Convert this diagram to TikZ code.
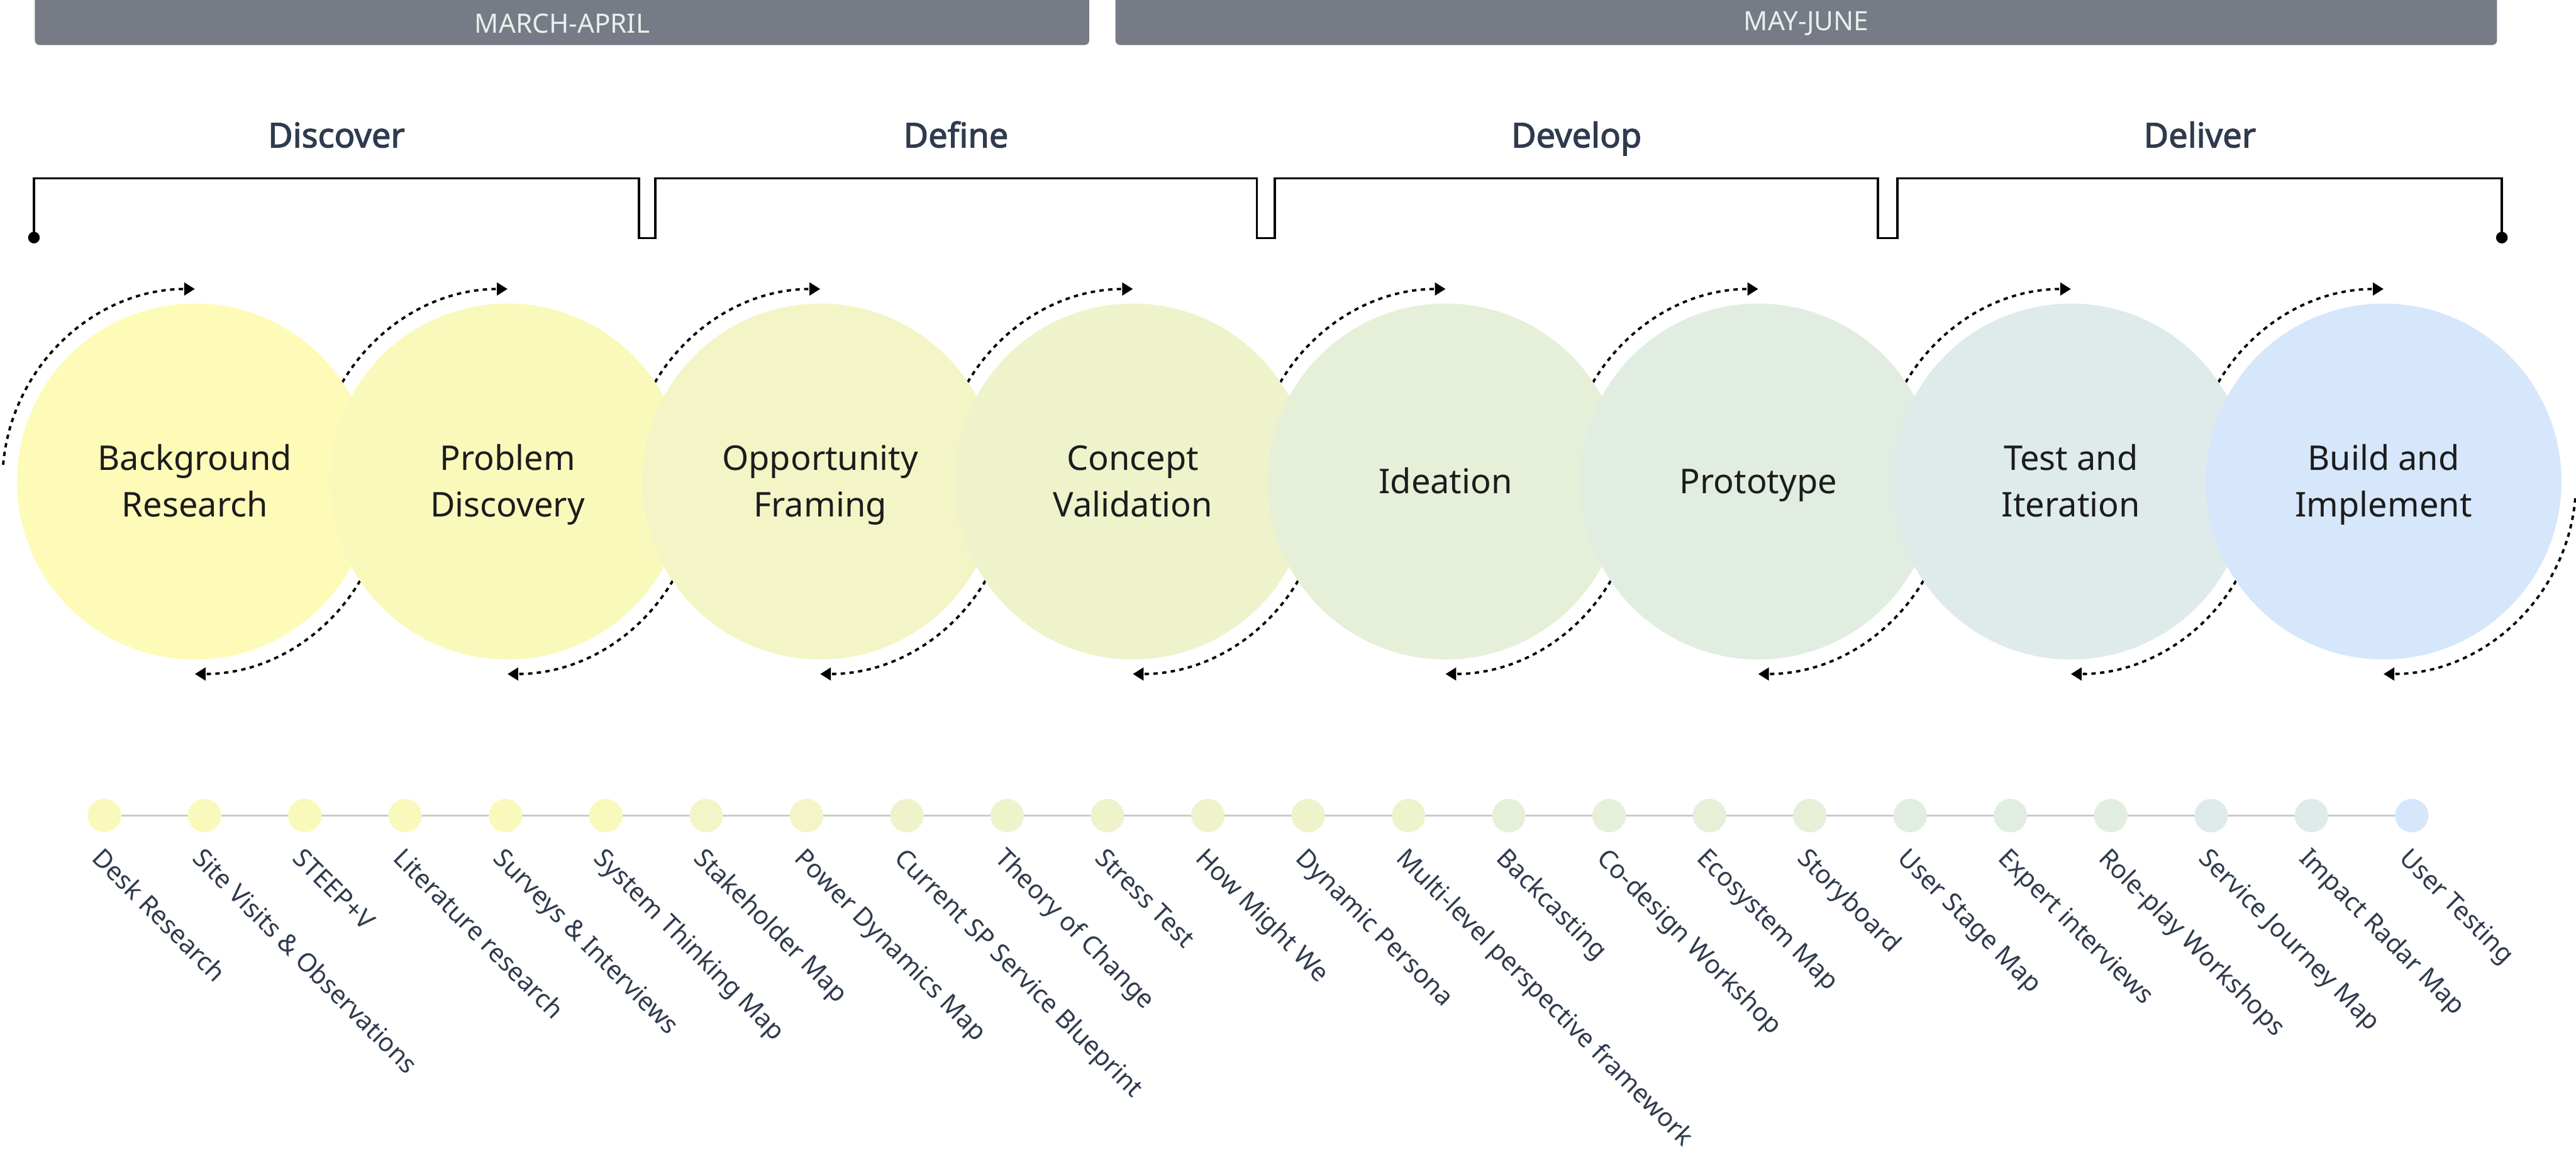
\documentclass[tikz,border=0pt]{standalone}
\usepackage{fontspec}
\setmainfont{Noto Sans}
\newfontfamily\phasefont{Noto Sans}[FakeBold=2.2]
\usetikzlibrary{arrows.meta,backgrounds}
\definecolor{barGray}{HTML}{767B86}
\definecolor{barText}{HTML}{E9EFEC}
\definecolor{slate}{HTML}{2F3B4D}
\definecolor{inkBlack}{HTML}{1C1C1C}
\definecolor{trackGray}{HTML}{CBCBCB}
\definecolor{stageA}{HTML}{FEFBB8}
\definecolor{stageB}{HTML}{F9F9BC}
\definecolor{stageC}{HTML}{F3F5C6}
\definecolor{stageD}{HTML}{EEF3CC}
\definecolor{stageE}{HTML}{E6EFD8}
\definecolor{stageF}{HTML}{E2EDE2}
\definecolor{stageG}{HTML}{DEEBEA}
\definecolor{stageH}{HTML}{D6E7FB}
\tikzset{
  periodbar/.style={fill=barGray,rounded corners=0.1cm},
  periodtext/.style={text=barText,font=\fontsize{15.6}{18}\selectfont},
  phase/.style={anchor=base,text=slate,font=\phasefont\fontsize{20}{24}\selectfont},
  bracketline/.style={line width=0.045cm,draw=black},
  stage/.style={circle,minimum size=7.34cm,inner sep=0pt,align=center,text height=1.46cm,text depth=0pt,text=inkBlack,font=\fontsize{20}{27.3}\selectfont},
  oneline/.style={text height=0.5cm},
  loopback/.style={draw=black,line width=0.05cm,dash pattern=on 0.09cm off 0.09cm,-{Triangle[length=0.22cm,width=0.26cm]}},
  tooldot/.style={circle,minimum size=0.69cm,inner sep=0pt},
  toollabel/.style={anchor=base west,rotate=-45,inner sep=0pt,text=slate,font=\fontsize{15}{18}\selectfont},
  track/.style={line width=0.045cm,draw=trackGray}
}
\begin{document}
\begin{tikzpicture}[x=1cm,y=1cm]
\useasboundingbox (0,0) rectangle (53.14,-23.81);
% Periodos
\fill[periodbar] (0.72,0.3) rectangle (22.47,-0.93);
\fill[periodbar] (23.01,0.3) rectangle (51.51,-0.93);
\node[periodtext] (marapr) at (11.60,-0.48) {MARCH-APRIL};
\node[periodtext] (mayjun) at (37.26,-0.48) {MAY-JUNE};

% Fases
\node[phase] (discover) at (6.94,-3.04) {Discover};
\node[phase] (define) at (19.72,-3.04) {Define};
\node[phase] (develop) at (32.52,-3.04) {Develop};
\node[phase] (deliver) at (45.38,-3.04) {Deliver};
\draw[bracketline] (0.70,-4.90) -- (0.70,-3.68) -- (13.18,-3.68) -- (13.18,-4.91) -- (13.52,-4.91) -- (13.52,-3.68)
  -- (25.93,-3.68) -- (25.93,-4.91) -- (26.30,-4.91) -- (26.30,-3.68) -- (38.74,-3.68) -- (38.74,-4.91)
  -- (39.14,-4.91) -- (39.14,-3.68) -- (51.61,-3.68) -- (51.61,-4.90);
\fill (0.70,-4.90) circle (0.12);
\fill (51.61,-4.90) circle (0.12);

% Etapas
\node[stage,fill=stageA] (bg) at (4.02,-9.93) {Background\\Research};
\node[stage,fill=stageB] (prob) at (10.47,-9.93) {Problem\\Discovery};
\node[stage,fill=stageC] (opp) at (16.92,-9.93) {Opportunity\\Framing};
\node[stage,fill=stageD] (concept) at (23.37,-9.93) {Concept\\Validation};
\node[stage,oneline,fill=stageE] (idea) at (29.82,-9.93) {Ideation};
\node[stage,oneline,fill=stageF] (proto) at (36.27,-9.93) {Prototype};
\node[stage,fill=stageG] (test) at (42.72,-9.93) {Test and\\Iteration};
\node[stage,fill=stageH] (build) at (49.17,-9.93) {Build and\\Implement};

% Herramientas
\node[tooldot,fill=stageB] (desk) at (2.150,-16.82) {};
\node[tooldot,fill=stageB] (site) at (4.220,-16.82) {};
\node[tooldot,fill=stageB] (steep) at (6.289,-16.82) {};
\node[tooldot,fill=stageB] (lit) at (8.359,-16.82) {};
\node[tooldot,fill=stageB] (surveys) at (10.428,-16.82) {};
\node[tooldot,fill=stageB] (systhink) at (12.498,-16.82) {};
\node[tooldot,fill=stageC] (stake) at (14.568,-16.82) {};
\node[tooldot,fill=stageC] (power) at (16.637,-16.82) {};
\node[tooldot,fill=stageD] (blueprint) at (18.707,-16.82) {};
\node[tooldot,fill=stageD] (toc) at (20.776,-16.82) {};
\node[tooldot,fill=stageD] (stress) at (22.846,-16.82) {};
\node[tooldot,fill=stageD] (hmw) at (24.916,-16.82) {};
\node[tooldot,fill=stageD] (persona) at (26.985,-16.82) {};
\node[tooldot,fill=stageD] (mlp) at (29.055,-16.82) {};
\node[tooldot,fill=stageE] (backcast) at (31.124,-16.82) {};
\node[tooldot,fill=stageE] (codesign) at (33.194,-16.82) {};
\node[tooldot,fill=stageE] (ecosys) at (35.264,-16.82) {};
\node[tooldot,fill=stageE] (story) at (37.333,-16.82) {};
\node[tooldot,fill=stageF] (stagemap) at (39.403,-16.82) {};
\node[tooldot,fill=stageF] (expert) at (41.472,-16.82) {};
\node[tooldot,fill=stageF] (roleplay) at (43.542,-16.82) {};
\node[tooldot,fill=stageG] (journey) at (45.612,-16.82) {};
\node[tooldot,fill=stageG] (radar) at (47.681,-16.82) {};
\node[tooldot,fill=stageH] (usertest) at (49.751,-16.82) {};

\node[toollabel] (deskl) at (1.870,-17.72) {Desk Research};
\node[toollabel] (sitel) at (3.940,-17.72) {Site Visits \& Observations};
\node[toollabel] (steepl) at (6.009,-17.72) {STEEP+V};
\node[toollabel] (litl) at (8.079,-17.72) {Literature research};
\node[toollabel] (surveysl) at (10.148,-17.72) {Surveys \& Interviews};
\node[toollabel] (systhinkl) at (12.218,-17.72) {System Thinking Map};
\node[toollabel] (stakel) at (14.288,-17.72) {Stakeholder Map};
\node[toollabel] (powerl) at (16.357,-17.72) {Power Dynamics Map};
\node[toollabel] (blueprintl) at (18.427,-17.72) {Current SP Service Blueprint};
\node[toollabel] (tocl) at (20.496,-17.72) {Theory of Change};
\node[toollabel] (stressl) at (22.566,-17.72) {Stress Test};
\node[toollabel] (hmwl) at (24.636,-17.72) {How Might We};
\node[toollabel] (personal) at (26.705,-17.72) {Dynamic Persona};
\node[toollabel] (mlpl) at (28.775,-17.72) {Multi-level perspective framework};
\node[toollabel] (backcastl) at (30.844,-17.72) {Backcasting};
\node[toollabel] (codesignl) at (32.914,-17.72) {Co-design Workshop};
\node[toollabel] (ecosysl) at (34.984,-17.72) {Ecosystem Map};
\node[toollabel] (storyl) at (37.053,-17.72) {Storyboard};
\node[toollabel] (stagemapl) at (39.123,-17.72) {User Stage Map};
\node[toollabel] (expertl) at (41.192,-17.72) {Expert interviews};
\node[toollabel] (roleplayl) at (43.262,-17.72) {Role-play Workshops};
\node[toollabel] (journeyl) at (45.332,-17.72) {Service Journey Map};
\node[toollabel] (radarl) at (47.401,-17.72) {Impact Radar Map};
\node[toollabel] (usertestl) at (49.471,-17.72) {User Testing};

\begin{scope}[on background layer]
\draw[track] (desk) -- (usertest);
% Ciclos
\draw[loopback] (bg.center) ++(175:3.97) arc[start angle=175,end angle=90,radius=3.97];
\draw[loopback] (bg.center) ++(-5:3.97) arc[start angle=-5,end angle=-90,radius=3.97];
\draw[loopback] (prob.center) ++(175:3.97) arc[start angle=175,end angle=90,radius=3.97];
\draw[loopback] (prob.center) ++(-5:3.97) arc[start angle=-5,end angle=-90,radius=3.97];
\draw[loopback] (opp.center) ++(175:3.97) arc[start angle=175,end angle=90,radius=3.97];
\draw[loopback] (opp.center) ++(-5:3.97) arc[start angle=-5,end angle=-90,radius=3.97];
\draw[loopback] (concept.center) ++(175:3.97) arc[start angle=175,end angle=90,radius=3.97];
\draw[loopback] (concept.center) ++(-5:3.97) arc[start angle=-5,end angle=-90,radius=3.97];
\draw[loopback] (idea.center) ++(175:3.97) arc[start angle=175,end angle=90,radius=3.97];
\draw[loopback] (idea.center) ++(-5:3.97) arc[start angle=-5,end angle=-90,radius=3.97];
\draw[loopback] (proto.center) ++(175:3.97) arc[start angle=175,end angle=90,radius=3.97];
\draw[loopback] (proto.center) ++(-5:3.97) arc[start angle=-5,end angle=-90,radius=3.97];
\draw[loopback] (test.center) ++(175:3.97) arc[start angle=175,end angle=90,radius=3.97];
\draw[loopback] (test.center) ++(-5:3.97) arc[start angle=-5,end angle=-90,radius=3.97];
\draw[loopback] (build.center) ++(175:3.97) arc[start angle=175,end angle=90,radius=3.97];
\draw[loopback] (build.center) ++(-5:3.97) arc[start angle=-5,end angle=-90,radius=3.97];
\end{scope}
\end{tikzpicture}
\end{document}
